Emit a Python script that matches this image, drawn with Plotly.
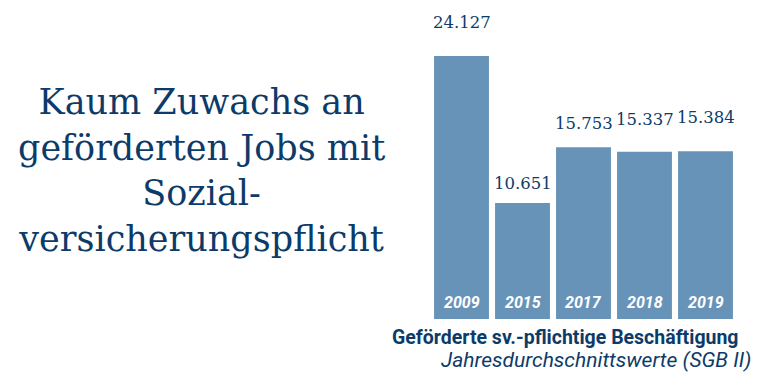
import plotly.graph_objects as go

years = ["2009", "2015", "2017", "2018", "2019"]
values = [24127, 10651, 15753, 15337, 15384]
value_labels = ["24.127", "10.651", "15.753", "15.337", "15.384"]
label_shift = [22, 8, 12, 21, 22]

title_text = "Kaum Zuwachs an<br>geförderten Jobs mit<br>Sozial-<br>versicherungspflicht"
subtitle1 = "Geförderte sv.-pflichtige Beschäftigung"
subtitle2 = "Jahresdurchschnittswerte (SGB II)"

# page body has an 8px margin; work in screen pixels and convert
OFF = 8
W, H = 760, 386
ML, MR, MT, MB = 431 - OFF, 32, 56 - OFF, 75
PW = W - ML - MR
PH = H - MT - MB

def px(x):
    return (x - OFF - ML) / PW

def py(y):
    return (H - MB - (y - OFF)) / PH

DARK = "#0d3b69"
BAR = "#6893b9"

fig = go.Figure(go.Bar(x=years, y=values, marker=dict(color=BAR, line=dict(width=0)),
                       hoverinfo="skip"))

ann = []
for i, (yr, v, lab, s) in enumerate(zip(years, values, value_labels, label_shift)):
    ann.append(dict(x=i, y=v, xref="x", yref="y", text=lab, showarrow=False,
                    yanchor="bottom", yshift=s,
                    font=dict(family="DejaVu Serif", size=16.5, color=DARK)))
    ann.append(dict(x=i, y=0, xref="x", yref="y", text="<b><i>" + yr + "</i></b>",
                    showarrow=False, yanchor="bottom", yshift=5,
                    font=dict(family="Roboto", size=16, color="white")))

ann.append(dict(x=px(201), y=py(170), xref="paper", yref="paper", text=title_text,
                showarrow=False, xanchor="center", yanchor="middle", align="center",
                font=dict(family="DejaVu Serif", size=35, color=DARK)))
ann.append(dict(x=px(741), y=py(337), xref="paper", yref="paper", text="<b>" + subtitle1 + "</b>",
                showarrow=False, xanchor="right", yanchor="middle",
                font=dict(family="Roboto", size=19.5, color=DARK)))
ann.append(dict(x=px(753), y=py(360), xref="paper", yref="paper", text="<i>" + subtitle2 + "</i>",
                showarrow=False, xanchor="right", yanchor="middle",
                font=dict(family="Roboto", size=21, color=DARK)))

fig.update_layout(
    width=W, height=H,
    margin=dict(l=ML, r=MR, t=MT, b=MB, pad=0),
    paper_bgcolor="white", plot_bgcolor="white",
    bargap=0.1, showlegend=False,
    xaxis=dict(visible=False, type="category", range=[-0.5, len(years) - 0.5]),
    yaxis=dict(visible=False, range=[0, max(values)]),
    annotations=ann,
)

fig.write_html("out.html", config={"displayModeBar": False})
